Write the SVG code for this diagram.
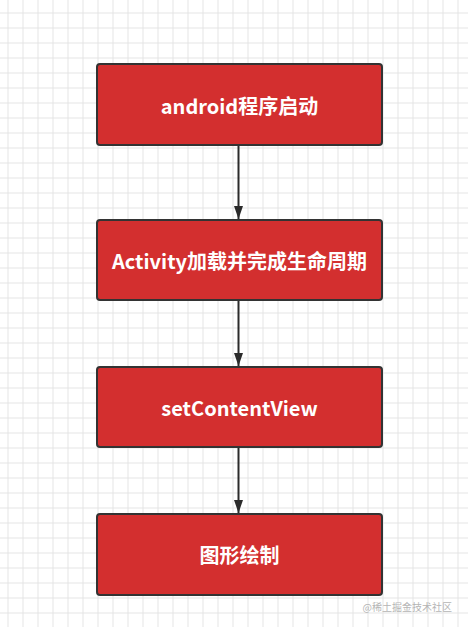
<svg xmlns="http://www.w3.org/2000/svg" width="468" height="627" viewBox="0 0 468 627">
<defs>
<pattern id="grid" x="7.5" y="12.5" width="15" height="15" patternUnits="userSpaceOnUse">
<path d="M0.5 0V15M0 0.5H15" stroke="#e4e4e4" stroke-width="1" fill="none"/>
</pattern>
<marker id="arr" viewBox="0 0 13 9" refX="13" refY="4.5" markerWidth="13" markerHeight="9" markerUnits="userSpaceOnUse" orient="auto">
<path d="M0 0L13 4.5L0 9Z" fill="#2b2b2b"/>
</marker>
<style>
.box{fill:#d32f2f;stroke:#333;stroke-width:2}
.lbl{fill:#fff;font-family:"Noto Sans CJK SC","Noto Sans",sans-serif;font-weight:bold;font-size:20px;text-anchor:middle;dominant-baseline:central}
.edge{stroke:#2b2b2b;stroke-width:2;fill:none}
</style>
</defs>
<rect width="468" height="627" fill="#fff"/>
<rect width="468" height="627" fill="url(#grid)"/>
<g id="connectors">
<path class="edge" d="M238.5 146V219" marker-end="url(#arr)"/>
<path class="edge" d="M238.5 301V366" marker-end="url(#arr)"/>
<path class="edge" d="M238.5 448V513" marker-end="url(#arr)"/>
</g>
<g id="n1"><rect class="box" x="97" y="64" width="285" height="81" rx="3"/><text class="lbl" x="239.5" y="105">android程序启动</text></g>
<g id="n2"><rect class="box" x="97" y="220" width="285" height="80" rx="3"/><text class="lbl" x="239.5" y="260">Activity加载并完成生命周期</text></g>
<g id="n3"><rect class="box" x="97" y="367" width="285" height="80" rx="3"/><text class="lbl" x="239.5" y="407">setContentView</text></g>
<g id="n4"><rect class="box" x="97" y="514" width="285" height="81" rx="3"/><text class="lbl" x="239.5" y="554">图形绘制</text></g>
<text x="452" y="606" font-family="'Noto Sans CJK SC',sans-serif" font-size="10" fill="#b5b5b5" text-anchor="end" dominant-baseline="central">@稀土掘金技术社区</text>
</svg>
